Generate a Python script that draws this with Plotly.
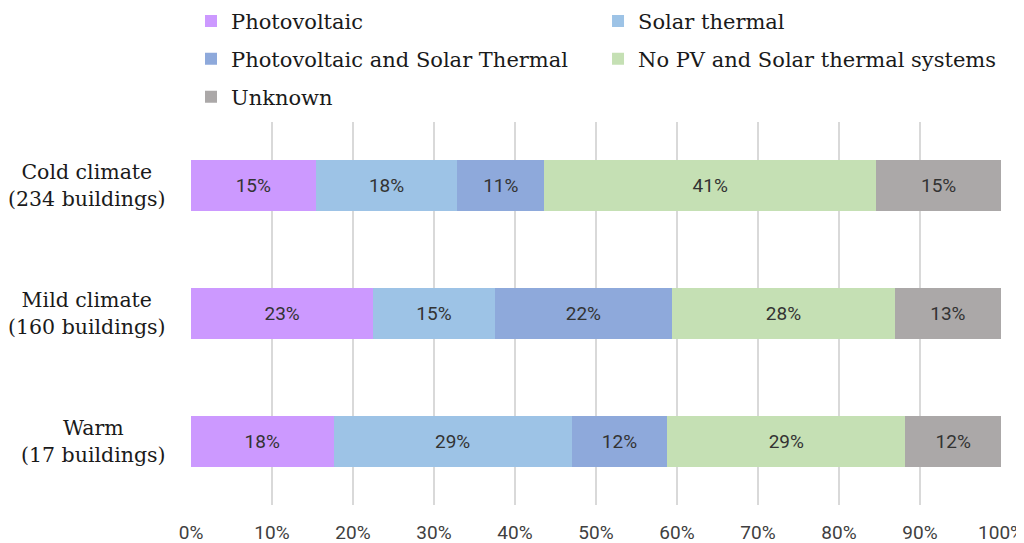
import plotly.graph_objects as go

categories = ["Cold climate<br>(234 buildings)", "Mild climate<br>(160 buildings)", "Warm<br>(17 buildings)"]
series_names = ["Photovoltaic", "Solar thermal", "Photovoltaic and Solar Thermal",
                "No PV and Solar thermal systems", "Unknown"]
photovoltaic = [15.4, 22.5, 17.6]
solar_thermal = [17.5, 15.0, 29.4]
pv_and_st = [10.7, 21.9, 11.8]
no_pv_st = [41.0, 27.5, 29.4]
unknown = [15.4, 13.1, 11.8]
x_ticks = [0, 10, 20, 30, 40, 50, 60, 70, 80, 90, 100]

series_values = [photovoltaic, solar_thermal, pv_and_st, no_pv_st, unknown]
colors = ["#CC99FF", "#9DC3E6", "#8EA9DB", "#C5E0B4", "#ABA8A8"]
legend_ids = ["legend", "legend2", "legend3", "legend4", "legend5"]
# legend placement (paper coords): column x, row y
legend_pos = [(0.0, 1.263), (0.5025, 1.263), (0.0, 1.164), (0.5025, 1.164), (0.0, 1.065)]

serif = "DejaVu Serif"
sans = "Roboto"

fig = go.Figure()
for name, vals, col, lg in zip(series_names, series_values, colors, legend_ids):
    fig.add_trace(go.Bar(
        y=categories, x=vals, name=name, orientation="h",
        marker=dict(color=col, line=dict(width=0)),
        text=[f"{int(v + 0.5)}%" for v in vals], textposition="inside",
        insidetextanchor="middle",
        textfont=dict(family=sans, size=19, color="#333333"),
        legend=lg,
    ))

layout_legends = {}
for lg, (lx, ly) in zip(legend_ids, legend_pos):
    layout_legends[lg] = dict(orientation="h", x=lx, y=ly, xanchor="left", yanchor="middle",
                              font=dict(family=serif, size=21, color="#1a1a1a"),
                              bgcolor="rgba(0,0,0,0)")

fig.update_layout(
    width=1024, height=535,
    margin=dict(l=183, r=31, t=114, b=37.5, autoexpand=False),
    paper_bgcolor="white", plot_bgcolor="white",
    barmode="stack", bargap=0.6,
    showlegend=True,
    uniformtext=dict(minsize=10, mode="show"),
    xaxis=dict(range=[0, 100], tickvals=x_ticks, ticktext=[f"{t}%" for t in x_ticks],
               showgrid=True, gridcolor="#D9D9D9", gridwidth=1.5, zeroline=False,
               tickfont=dict(family=sans, size=19, color="#404040"),
               ticks="", ticklabelstandoff=14, ticklabeloverflow="allow",
               fixedrange=True),
    yaxis=dict(categoryorder="array", categoryarray=categories[::-1],
               showticklabels=False, showgrid=False, zeroline=False, fixedrange=True),
    **layout_legends,
)

for c in categories:
    fig.add_annotation(x=0, xref="paper", xanchor="right", xshift=-23,
                       y=c, yref="y", text=c, showarrow=False, align="center",
                       font=dict(family=serif, size=20.5, color="#1a1a1a"))

fig.write_html("out.html")
